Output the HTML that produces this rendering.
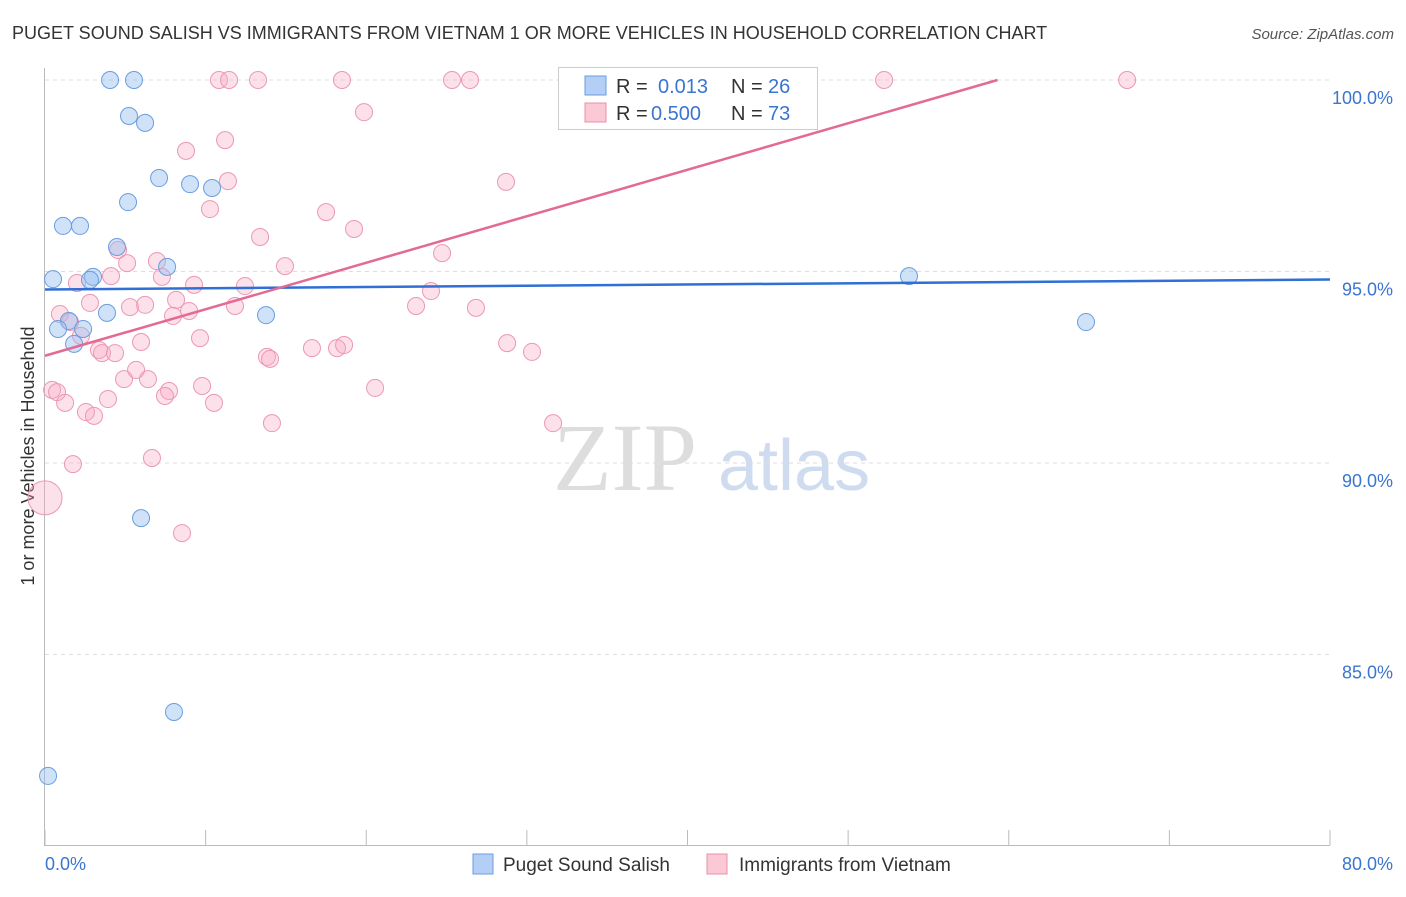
<!DOCTYPE html>
<html><head><meta charset="utf-8"><style>
body{margin:0;background:#fff;font-family:"Liberation Sans",sans-serif}
svg text{font-family:"Liberation Sans",sans-serif}
</style></head><body>
<svg id="chart" width="1406" height="892" viewBox="0 0 1406 892" xmlns="http://www.w3.org/2000/svg">
<text x="12" y="39" font-size="18" fill="#333">PUGET SOUND SALISH VS IMMIGRANTS FROM VIETNAM 1 OR MORE VEHICLES IN HOUSEHOLD CORRELATION CHART</text>
<text x="1394" y="39" font-size="15" fill="#555" text-anchor="end" font-style="italic">Source: ZipAtlas.com</text>
<text x="553" y="490" font-size="96" fill="#ddd" font-family="Liberation Serif" style="font-family:'Liberation Serif',serif">ZIP</text>
<text x="718" y="490" font-size="72" fill="#cfdcf0">atlas</text>
<g id="grid"></g>
<line x1="44.5" y1="68" x2="44.5" y2="845" stroke="#bbb"/>
<line x1="44" y1="845.5" x2="1330" y2="845.5" stroke="#bbb"/>
<g id="xticks"></g>
<text transform="translate(34,456) rotate(-90)" font-size="18" fill="#333" text-anchor="middle">1 or more Vehicles in Household</text>
<text x="45" y="870" font-size="18" fill="#3a75d0">0.0%</text>
<text x="1393" y="870" font-size="18" fill="#3a75d0" text-anchor="end">80.0%</text>
<g id="points"></g>
<g id="lines"></g>
<g>
<rect x="558.5" y="67.5" width="259" height="62" fill="#fff" stroke="#ccc"/>
<rect x="585" y="76" width="21" height="19" fill="#b4cff5" stroke="#6a9ee0"/>
<rect x="585" y="103" width="21" height="19" fill="#fbc8d6" stroke="#e890aa"/>
<text x="616" y="93" font-size="20" fill="#333">R = </text><text x="658" y="93" font-size="20" fill="#3a75d0">0.013</text>
<text x="731" y="93" font-size="20" fill="#333">N = </text><text x="768" y="93" font-size="20" fill="#3a75d0">26</text>
<text x="616" y="120" font-size="20" fill="#333">R = </text><text x="651" y="120" font-size="20" fill="#3a75d0">0.500</text>
<text x="731" y="120" font-size="20" fill="#333">N = </text><text x="768" y="120" font-size="20" fill="#3a75d0">73</text>
</g>
<g>
<rect x="473" y="854" width="20" height="20" fill="#b4cff5" stroke="#6a9ee0"/>
<text x="503" y="871" font-size="19" fill="#333">Puget Sound Salish</text>
<rect x="707" y="854" width="20" height="20" fill="#fbc8d6" stroke="#e890aa"/>
<text x="739" y="871" font-size="19" fill="#333">Immigrants from Vietnam</text>
</g>
</svg>
<script>
const yTicks=[100,95,90,85];
const yTickLabels=["100.0%","95.0%","90.0%","85.0%"];
const xTicks=[0,10,20,30,40,50,60,70,80];
const blueX=[4.05,5.54,5.23,6.23,7.10,9.03,10.40,5.17,1.12,2.18,4.48,7.60,2.99,2.80,0.50,3.86,1.49,0.81,2.37,1.81,13.76,5.98,8.03,0.19,53.79,64.81];
const blueY=[100,100,99.06,98.88,97.44,97.28,97.18,96.81,96.19,96.19,95.64,95.12,94.86,94.78,94.80,93.92,93.71,93.50,93.50,93.11,93.86,88.56,83.50,81.83,94.88,93.68];
const pinkX=[10.83,11.46,13.26,18.49,25.34,26.46,43.15,52.24,67.37,19.86,11.21,8.78,28.70,11.39,10.27,17.50,19.24,13.39,24.72,4.55,6.97,5.11,14.94,4.11,1.99,7.28,9.28,12.45,24.03,2.80,5.29,6.23,8.16,11.83,23.10,26.83,8.97,7.97,0.93,1.56,2.24,5.98,9.65,3.36,3.55,4.36,13.82,14.01,16.62,18.18,18.62,28.77,30.32,5.67,4.92,6.41,20.55,0.44,0.75,9.78,7.72,7.47,3.92,1.25,10.52,2.55,3.05,14.13,31.63,1.74,6.66,8.53,0];
const pinkY=[100,100,100,100,100,100,100,100,100,99.16,98.43,98.15,97.34,97.36,96.63,96.55,96.11,95.90,95.48,95.56,95.27,95.22,95.14,94.88,94.70,94.86,94.65,94.62,94.49,94.18,94.07,94.13,94.26,94.10,94.10,94.05,93.97,93.84,93.89,93.68,93.32,93.16,93.26,92.95,92.87,92.87,92.77,92.72,93.00,93.00,93.08,93.13,92.90,92.43,92.19,92.19,91.96,91.91,91.85,92.01,91.88,91.75,91.67,91.57,91.57,91.33,91.23,91.04,91.04,89.97,90.13,88.17,89.09];
const pinkR=[];pinkX.forEach((_,i)=>pinkR.push(i===pinkX.length-1?17:8.5));
const blueTrend=[[0,94.53],[80,94.79]];
const pinkTrend=[[0,92.8],[59.3,100]];
const NS="http://www.w3.org/2000/svg";
const sx=v=>45+v*16.0625;
const sy=v=>80+(100-v)*38.3;
function mk(tag,attrs,parent){const e=document.createElementNS(NS,tag);for(const k in attrs)e.setAttribute(k,attrs[k]);parent.appendChild(e);return e;}
const grid=document.getElementById('grid');
yTicks.forEach((t,i)=>{
 const l=mk('line',{x1:45,x2:1330,y1:sy(t),y2:sy(t),stroke:'#ddd','stroke-dasharray':'4,4'},grid);
 
 
 const tx=mk('text',{x:1393,y:sy(t)+24,'font-size':18,fill:'#3a75d0','text-anchor':'end'},grid);
 tx.textContent=yTickLabels[i];
 
 
});
const xt=document.getElementById('xticks');
xTicks.forEach(t=>{
 const l=mk('line',{x1:sx(t),x2:sx(t),y1:830,y2:845,stroke:'#bbb'},xt);
 
 
});
const pts=document.getElementById('points');
pinkX.forEach((x,i)=>{
 const c=mk('circle',{cx:sx(x),cy:sy(pinkY[i]),r:pinkR[i],fill:'rgba(248,170,195,0.35)',stroke:'#eb98b2','stroke-width':1},pts);
 
 
});
blueX.forEach((x,i)=>{
 const c=mk('circle',{cx:sx(x),cy:sy(blueY[i]),r:8.5,fill:'rgba(150,190,240,0.45)',stroke:'#6a9ee0','stroke-width':1},pts);
 
 
});
const ln=document.getElementById('lines');
const bl=mk('line',{x1:sx(blueTrend[0][0]),y1:sy(blueTrend[0][1]),x2:sx(blueTrend[1][0]),y2:sy(blueTrend[1][1]),stroke:'#2f6fd6','stroke-width':2.5},ln);


const pl=mk('line',{x1:sx(pinkTrend[0][0]),y1:sy(pinkTrend[0][1]),x2:sx(pinkTrend[1][0]),y2:sy(pinkTrend[1][1]),stroke:'#e36a94','stroke-width':2.5},ln);


</script>
</body></html>
